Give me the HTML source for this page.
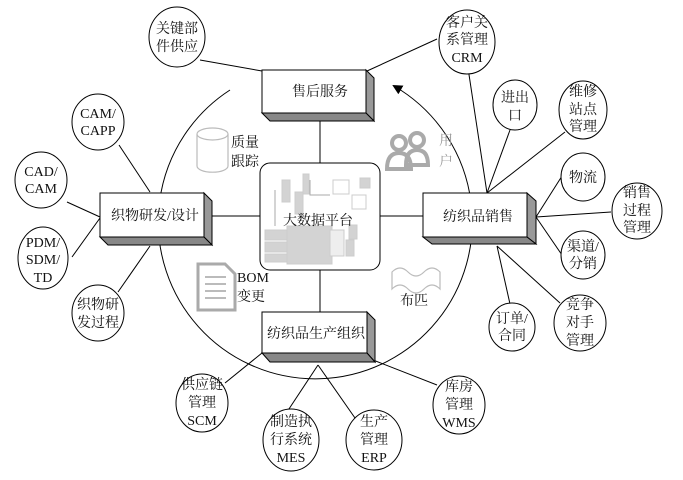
<!DOCTYPE html>
<html><head><meta charset="utf-8"><style>
html,body{margin:0;padding:0;background:#fff;}
svg text{font-family:"Liberation Serif","Noto Serif CJK SC","Noto Sans CJK SC",serif;font-size:14px;fill:#111;}
</style></head><body>
<svg width="683" height="475" viewBox="0 0 683 475" xmlns="http://www.w3.org/2000/svg">
<defs><marker id="ah" markerWidth="10" markerHeight="10" refX="8" refY="5" orient="auto" markerUnits="userSpaceOnUse"><path d="M0,0 L10,5 L0,10 z" fill="#000"/></marker></defs>
<g stroke="#000" stroke-width="1" fill="none">
<path d="M230,90 A157,157 0 1 0 394,86" marker-end="url(#ah)"/>
<line x1="320" y1="113" x2="320" y2="163"/>
<line x1="320" y1="270" x2="320" y2="312"/>
<line x1="212" y1="216" x2="260" y2="216"/>
<line x1="380" y1="216" x2="423" y2="216"/>
<line x1="200" y1="60" x2="262" y2="71"/>
<line x1="437" y1="39" x2="367" y2="71"/>
<line x1="468" y1="68" x2="487" y2="193"/>
<line x1="510" y1="130" x2="487" y2="193"/>
<line x1="565" y1="132" x2="487" y2="193"/>
<line x1="562" y1="176" x2="536" y2="217"/>
<line x1="611" y1="212" x2="536" y2="217"/>
<line x1="562" y1="255" x2="536" y2="217"/>
<line x1="510" y1="304" x2="497" y2="246"/>
<line x1="560" y1="303" x2="497" y2="246"/>
<line x1="119" y1="145" x2="150" y2="192"/>
<line x1="67" y1="202" x2="100" y2="217"/>
<line x1="72" y1="257" x2="100" y2="218"/>
<line x1="118" y1="292" x2="150" y2="246"/>
<line x1="225" y1="383" x2="262" y2="353"/>
<line x1="283" y1="418" x2="318" y2="365"/>
<line x1="355" y1="418" x2="318" y2="365"/>
<line x1="437" y1="385" x2="373" y2="360"/>
</g>
<g stroke="#000" stroke-width="1">
<g><polygon points="366,70 374,78 374,121 366,113" fill="#999"/><polygon points="262,113 366,113 374,121 270,121" fill="#888"/><rect x="262" y="70" width="104" height="43" fill="#fff"/></g>
<g><polygon points="204,193 212,201 212,245 204,237" fill="#999"/><polygon points="100,237 204,237 212,245 108,245" fill="#888"/><rect x="100" y="193" width="104" height="44" fill="#fff"/></g>
<g><polygon points="527,193 536,201 536,244 527,237" fill="#999"/><polygon points="423,237 527,237 536,244 432,244" fill="#888"/><rect x="423" y="193" width="104" height="44" fill="#fff"/></g>
<g><polygon points="367,312 375,320 375,362 367,353" fill="#999"/><polygon points="262,353 367,353 375,362 270,362" fill="#888"/><rect x="262" y="312" width="105" height="41" fill="#fff"/></g>
<rect x="260" y="163" width="120" height="107" rx="10" fill="#fff"/>
</g>
<g fill="#d3d3d3" stroke="#ccc">
<rect x="265" y="230" width="30" height="10"/><rect x="265" y="242" width="30" height="10"/><rect x="265" y="254" width="30" height="8"/>
<rect x="287" y="226" width="45" height="38"/>
<rect x="282" y="180" width="8" height="22"/><rect x="303" y="174" width="6" height="20"/><rect x="295" y="192" width="8" height="22"/>
<rect x="333" y="180" width="16" height="14" fill="#fff"/><rect x="360" y="178" width="10" height="10"/><rect x="352" y="195" width="14" height="14" fill="#fff"/>
<rect x="330" y="230" width="14" height="26" fill="#eee"/><rect x="349" y="225" width="8" height="14"/><rect x="346" y="240" width="8" height="16"/>
</g>
<g fill="none" stroke="#aaa"><path d="M275,190 V226 M310,180 V195 H330"/></g>
<g stroke="#000" stroke-width="1" fill="#fff">
<ellipse cx="177" cy="37" rx="28" ry="30"/>
<ellipse cx="467" cy="42" rx="28" ry="32"/>
<ellipse cx="515" cy="105" rx="22" ry="25"/>
<ellipse cx="583" cy="110" rx="24" ry="29"/>
<ellipse cx="583" cy="177" rx="22" ry="24"/>
<ellipse cx="637" cy="211" rx="25" ry="28"/>
<ellipse cx="583" cy="255" rx="22" ry="24"/>
<ellipse cx="580" cy="323" rx="26" ry="28"/>
<ellipse cx="512" cy="327" rx="23" ry="24"/>
<ellipse cx="459" cy="405" rx="26" ry="29"/>
<ellipse cx="374" cy="440" rx="28" ry="30"/>
<ellipse cx="291" cy="440" rx="28" ry="31"/>
<ellipse cx="202" cy="403" rx="26" ry="29"/>
<ellipse cx="98" cy="313" rx="26" ry="28"/>
<ellipse cx="43" cy="258" rx="25" ry="31"/>
<ellipse cx="41" cy="180" rx="26" ry="28"/>
<ellipse cx="98" cy="122" rx="26" ry="28"/>
</g>
<g stroke="#bbb" fill="#fff" stroke-width="1.2">
<path d="M197,134 V166 A15,6 0 0 0 228,166 V134"/><ellipse cx="212.5" cy="134" rx="15.5" ry="6"/>
<path d="M198,264 H225 L235,274 V310 H198 Z" stroke="#aaa" stroke-width="3"/>
<path d="M392,272 q8,-8 16,0 t16,0 t16,0 V289 q-8,-8 -16,0 t-16,0 t-16,0 Z"/>
</g>
<g stroke="#bbb" stroke-width="2"><line x1="205" y1="277" x2="226" y2="277"/><line x1="205" y1="284" x2="226" y2="284"/><line x1="205" y1="291" x2="226" y2="291"/><line x1="205" y1="298" x2="226" y2="298"/></g>
<g fill="none" stroke="#aaa" stroke-width="4">
<circle cx="399" cy="143" r="7"/><path d="M387,169 q0,-16 12,-16 q12,0 12,16 Z"/>
<circle cx="417" cy="140" r="7"/><path d="M406,165 q0,-15 11,-15 q11,0 11,15 Z"/>
</g>
<g text-anchor="middle">
<text x="320" y="96">售后服务</text>
<text x="155" y="220">织物研发/设计</text>
<text x="478" y="221">纺织品销售</text>
<text x="316" y="338">纺织品生产组织</text>
<text x="318" y="225">大数据平台</text>
<text x="177" y="33">关键部</text><text x="177" y="51">件供应</text>
<text x="467" y="27">客户关</text><text x="467" y="44">系管理</text><text x="467" y="62">CRM</text>
<text x="515" y="102">进出</text><text x="515" y="120">口</text>
<text x="583" y="96">维修</text><text x="583" y="114">站点</text><text x="583" y="131">管理</text>
<text x="583" y="182">物流</text>
<text x="637" y="197">销售</text><text x="637" y="215">过程</text><text x="637" y="232">管理</text>
<text x="583" y="251">渠道/</text><text x="583" y="268">分销</text>
<text x="580" y="309">竞争</text><text x="580" y="327">对手</text><text x="580" y="345">管理</text>
<text x="512" y="323">订单/</text><text x="512" y="340">合同</text>
<text x="459" y="391">库房</text><text x="459" y="409">管理</text><text x="459" y="427">WMS</text>
<text x="374" y="426">生产</text><text x="374" y="444">管理</text><text x="374" y="462">ERP</text>
<text x="291" y="426">制造执</text><text x="291" y="444">行系统</text><text x="291" y="462">MES</text>
<text x="202" y="389">供应链</text><text x="202" y="407">管理</text><text x="202" y="425">SCM</text>
<text x="98" y="309">织物研</text><text x="98" y="327">发过程</text>
<text x="43" y="247">PDM/</text><text x="43" y="264">SDM/</text><text x="43" y="282">TD</text>
<text x="41" y="176">CAD/</text><text x="41" y="193">CAM</text>
<text x="98" y="118">CAM/</text><text x="98" y="135">CAPP</text>
</g>
<text x="231" y="147">质量</text><text x="231" y="166">跟踪</text>
<text x="237" y="282">BOM</text><text x="237" y="301">变更</text>
<text x="400" y="305">布匹</text>
<text x="439" y="145" style="fill:#999">用</text><text x="439" y="166" style="fill:#999">户</text>
</svg>
</body></html>
